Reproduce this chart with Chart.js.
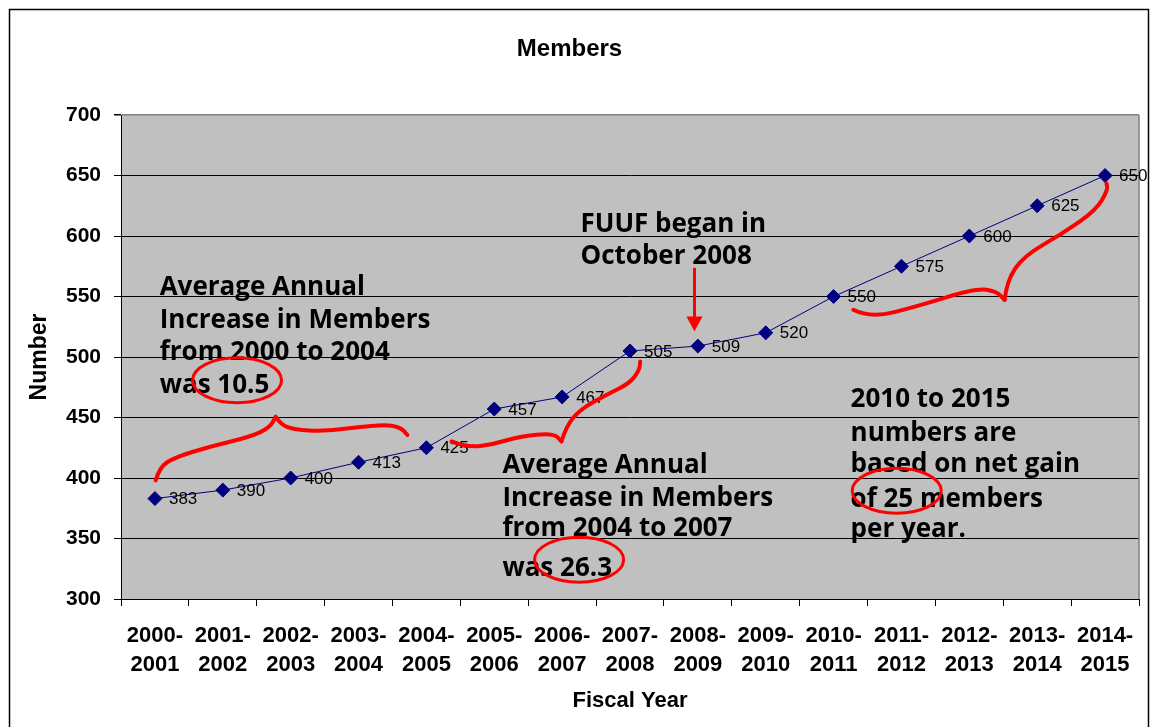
<!DOCTYPE html>
<html>
<head>
<meta charset="utf-8">
<title>Members</title>
<script src="https://cdn.jsdelivr.net/npm/chart.js@4/dist/chart.umd.min.js"></script>
<style>
  html, body { margin: 0; padding: 0; background: #fff; }
  canvas { display: block; }
</style>
</head>
<body>
<canvas id="canvas" width="1155" height="727"></canvas>
<script>
// data
const fiscalYears = ['2000-2001', '2001-2002', '2002-2003', '2003-2004', '2004-2005',
  '2005-2006', '2006-2007', '2007-2008', '2008-2009', '2009-2010',
  '2010-2011', '2011-2012', '2012-2013', '2013-2014', '2014-2015'];
const members = [383, 390, 400, 413, 425, 457, 467, 505, 509, 520, 550, 575, 600, 625, 650];
const yTicks = [300, 350, 400, 450, 500, 550, 600, 650, 700];

// hand drawn notes, placed in (category index, value) units
const notes = [
  { at: [0.07, 551], lines: ['Average Annual', 'Increase in Members', 'from 2000 to 2004', 'was 10.5'], dy: [0, 33, 65, 98] },
  { at: [6.27, 603.6], lines: ['FUUF began in', 'October 2008'], dy: [0, 32] },
  { at: [5.12, 404.1], lines: ['Average Annual', 'Increase in Members', 'from 2004 to 2007', 'was 26.3'], dy: [0, 33, 63, 103] },
  { at: [10.25, 458.6], lines: ['2010 to 2015', 'numbers are', 'based on net gain', 'of 25 members', 'per year.'], dy: [0, 34, 65, 100, 130] }
];
const circles = [[1.21, 480.8], [6.25, 332.5], [10.93, 389.5]];
const braces = [
  [[0.01, 398], [0.07, 409], [0.29, 417], [0.81, 426], [1.40, 434], [1.69, 441.5], [1.78, 450.6]],
  [[1.78, 450.6], [1.86, 444], [2.05, 440], [2.5, 438.5], [3.35, 444.5], [3.62, 442], [3.72, 435.5]],
  [[4.37, 430.2], [4.59, 425], [5.0, 428], [5.37, 434.4], [5.87, 437.2], [5.99, 430.2]],
  [[5.99, 430.2], [6.06, 442.6], [6.26, 456.4], [6.65, 468.8], [7.0, 478.4], [7.14, 489.4], [7.15, 496.3]],
  [[10.29, 539], [10.54, 532.1], [11.22, 541.7], [12.10, 556.9], [12.40, 554.1], [12.52, 547.2]],
  [[12.52, 547.2], [12.55, 562.3], [12.79, 583], [13.38, 602.3], [13.87, 621.6], [14.04, 638.1], [14.02, 643.6]]
];
const arrow = [[7.95, 573.7], [7.95, 521.1]];

const plotBackground = {
  id: 'plotBackground',
  beforeDraw(chart) {
    const { ctx, chartArea: a } = chart;
    ctx.save();
    ctx.fillStyle = '#fff';
    ctx.fillRect(0, 0, chart.width, chart.height);
    ctx.fillStyle = '#C0C0C0';
    ctx.fillRect(a.left, a.top, a.right - a.left, a.bottom - a.top);
    ctx.strokeStyle = '#000';
    ctx.lineWidth = 1.5;
    ctx.strokeRect(9.5, 9.5, 1139, 740);
    ctx.restore();
  },
  afterDatasetsDraw(chart) {
    const { ctx, chartArea: a } = chart;
    ctx.save();
    // right border of plot area
    ctx.strokeStyle = '#808080';
    ctx.lineWidth = 1.5;
    ctx.beginPath();
    ctx.moveTo(a.right, a.top);
    ctx.lineTo(a.right, a.bottom);
    ctx.stroke();
    // value labels
    const meta = chart.getDatasetMeta(0);
    ctx.fillStyle = '#000';
    ctx.font = '17px "Liberation Sans", Arial, sans-serif';
    ctx.textBaseline = 'middle';
    ctx.textAlign = 'left';
    meta.data.forEach((pt, i) => {
      ctx.fillText(String(members[i]), pt.x + 14, pt.y + 1);
    });
    ctx.restore();
  }
};

const handNotes = {
  id: 'handNotes',
  afterDraw(chart) {
    const { ctx } = chart;
    const xs = chart.scales.x, ys = chart.scales.y;
    const P = (p) => [xs.getPixelForValue(p[0]), ys.getPixelForValue(p[1])];
    ctx.save();

    ctx.fillStyle = '#000';
    ctx.font = 'bold 26px "Open Sans", Lato, sans-serif';
    ctx.textBaseline = 'alphabetic';
    ctx.textAlign = 'left';
    notes.forEach(n => {
      const [x, y] = P(n.at);
      n.lines.forEach((t, i) => ctx.fillText(t, x, y + n.dy[i]));
    });

    ctx.strokeStyle = '#FF0000';
    ctx.lineCap = 'round';
    ctx.lineJoin = 'round';

    ctx.lineWidth = 3;
    circles.forEach(c => {
      const [x, y] = P(c);
      ctx.beginPath();
      ctx.ellipse(x, y, 44.5, 22.5, 0, 0, Math.PI * 2);
      ctx.stroke();
    });

    ctx.lineWidth = 4;
    braces.forEach(seg => {
      const pts = seg.map(P);
      ctx.beginPath();
      ctx.moveTo(pts[0][0], pts[0][1]);
      for (let i = 1; i < pts.length - 1; i++) {
        const mx = (pts[i][0] + pts[i + 1][0]) / 2;
        const my = (pts[i][1] + pts[i + 1][1]) / 2;
        ctx.quadraticCurveTo(pts[i][0], pts[i][1], mx, my);
      }
      const last = pts[pts.length - 1];
      ctx.lineTo(last[0], last[1]);
      ctx.stroke();
    });

    // arrow
    const [ax, ay1] = P(arrow[0]);
    const [, ay2] = P(arrow[1]);
    ctx.lineWidth = 3;
    ctx.lineCap = 'butt';
    ctx.beginPath();
    ctx.moveTo(ax, ay1);
    ctx.lineTo(ax, ay2 - 12);
    ctx.stroke();
    ctx.fillStyle = '#FF0000';
    ctx.beginPath();
    ctx.moveTo(ax - 8, ay2 - 15);
    ctx.lineTo(ax + 8, ay2 - 15);
    ctx.lineTo(ax, ay2);
    ctx.closePath();
    ctx.fill();
    ctx.restore();
  }
};

new Chart(document.getElementById('canvas'), {
  type: 'line',
  data: {
    labels: fiscalYears,
    datasets: [{
      label: 'Members',
      data: members,
      borderColor: '#000080',
      borderWidth: 1,
      tension: 0,
      pointStyle: 'rectRot',
      pointRadius: 7,
      pointBorderWidth: 1,
      pointBackgroundColor: '#000080',
      pointBorderColor: '#000080'
    }]
  },
  options: {
    responsive: false,
    animation: false,
    layout: { padding: { left: 0, right: 16, top: 0, bottom: 0 } },
    plugins: {
      legend: { display: false },
      tooltip: { enabled: false },
      title: {
        display: true,
        text: 'Members',
        color: '#000',
        font: { family: '"Liberation Sans", Arial, sans-serif', size: 24, weight: 'bold' },
        padding: { top: 34.6, bottom: 51.6 }
      }
    },
    scales: {
      x: {
        offset: true,
        afterFit: (s) => { s.height = 128; },
        grid: { display: true, drawOnChartArea: false, drawTicks: true, tickLength: 7, color: '#000', offset: true },
        border: { color: '#000', width: 1 },
        ticks: {
          color: '#000',
          maxRotation: 0,
          autoSkip: false,
          padding: 15,
          font: { family: '"Liberation Sans", Arial, sans-serif', size: 22, weight: 'bold', lineHeight: 1.34 },
          callback: (v, i) => {
            const p = fiscalYears[i].split('-');
            return [p[0] + '-', p[1]];
          }
        },
        title: {
          display: true,
          text: 'Fiscal Year',
          color: '#000',
          font: { family: '"Liberation Sans", Arial, sans-serif', size: 22, weight: 'bold' },
          padding: { top: 0, bottom: 12.8 }
        }
      },
      y: {
        min: yTicks[0],
        max: yTicks[yTicks.length - 1],
        afterFit: (s) => { s.width = 121; },
        afterBuildTicks: (s) => { s.ticks = yTicks.map(v => ({ value: v })); },
        grid: {
          color: (c) => (c.tick && c.tick.value === 700 ? '#808080' : '#000'),
          lineWidth: (c) => (c.tick && c.tick.value === 700 ? 1.5 : 1),
          tickLength: 7,
          tickColor: '#000'
        },
        border: { color: '#000', width: 1 },
        ticks: {
          color: '#000',
          padding: 13,
          font: { family: '"Liberation Sans", Arial, sans-serif', size: 21, weight: 'bold' }
        },
        title: {
          display: true,
          text: 'Number',
          color: '#000',
          font: { family: '"Liberation Sans", Arial, sans-serif', size: 23, weight: 'bold' },
          padding: { top: 26, bottom: 0 }
        }
      }
    }
  },
  plugins: [plotBackground, handNotes]
});
</script>
</body>
</html>
